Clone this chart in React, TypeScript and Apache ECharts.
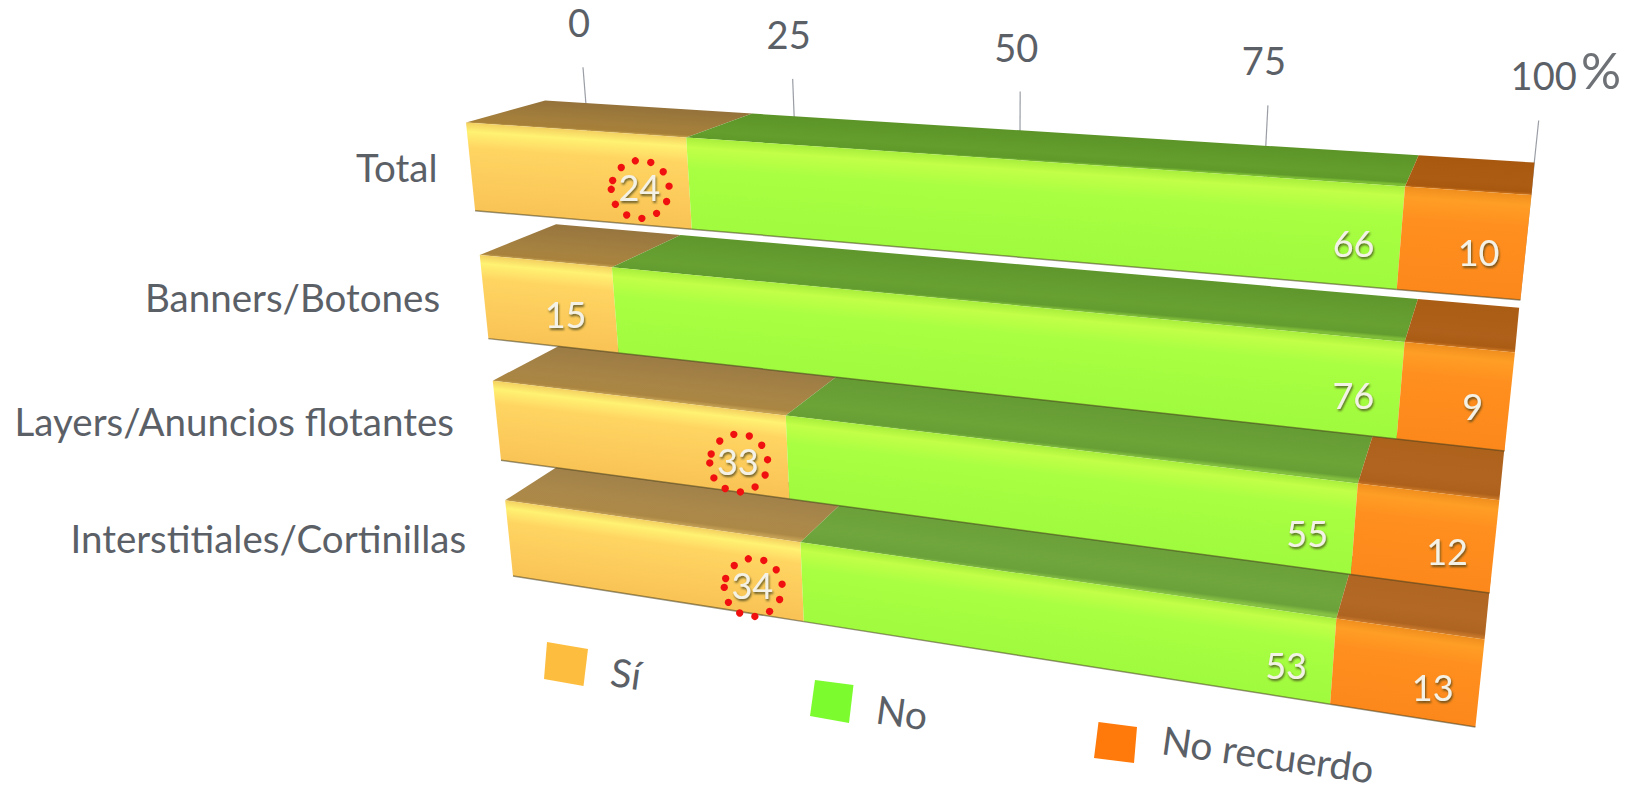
import React, { useEffect, useRef } from "react";
import * as echarts from "echarts";

// Survey answers per ad format, percent
const categories = ["Total", "Banners/Botones", "Layers/Anuncios flotantes", "Interstitiales/Cortinillas"];
const si = [24, 15, 33, 34];
const no = [66, 76, 55, 53];
const noRecuerdo = [10, 9, 12, 13];
const tickValues = [0, 25, 50, 75, 100];
const circledRows = [0, 2, 3];

// Perspective of the front plane: screen corners of the value/row rectangle
const CORNERS = [
  [466, 122.5],
  [1531.5, 195],
  [1475.4, 727],
  [513, 576],
];
const VANISH = [1566, -182];
const DEPTH = 0.0776;
const WALL_DEPTH = 1.56;
const BAR_BAND = 0.66;
const FONT = "Lato, Carlito, 'Open Sans', sans-serif";
const INK = "#5b6067";
const LABEL_GAPS = [33, 44, 43, 43];

const [[x0, y0], [x1, y1], [x2, y2], [x3, y3]] = CORNERS;
const dx1 = x1 - x2;
const dx2 = x3 - x2;
const sx = x0 - x1 + x2 - x3;
const dy1 = y1 - y2;
const dy2 = y3 - y2;
const sy = y0 - y1 + y2 - y3;
const det = dx1 * dy2 - dx2 * dy1;
const G = (sx * dy2 - dx2 * sy) / det;
const H = (dx1 * sy - sx * dy1) / det;
const A = x1 - x0 + G * x1;
const B = x3 - x0 + H * x3;
const D = y1 - y0 + G * y1;
const E = y3 - y0 + H * y3;

function toScreen(u: number, v: number, depth: number) {
  const d = depth * DEPTH;
  const w = G * u + H * v + 1 + d;
  return [(A * u + B * v + x0 + d * VANISH[0]) / w, (D * u + E * v + y0 + d * VANISH[1]) / w];
}

// Value and row, read through the chart's own axes, as plane coordinates
function planePoint(api: any, value: number, row: number, bandOffset: number, depth: number) {
  const band = api.size([0, 1])[1];
  const left = api.coord([0, 0])[0];
  const right = api.coord([100, 0])[0];
  const top = api.coord([0, 0])[1] - (band * BAR_BAND) / 2;
  const bottom = api.coord([0, categories.length - 1])[1] + (band * BAR_BAND) / 2;
  const p = api.coord([value, row]);
  const u = (p[0] - left) / (right - left);
  const v = (p[1] + bandOffset * band - top) / (bottom - top);
  return toScreen(u, v, depth);
}

function gradientAcross(a: number[], b: number[], c: number[], d: number[], stops: any[]) {
  const mx = (a[0] + b[0]) / 2;
  const my = (a[1] + b[1]) / 2;
  const nx = (d[0] + c[0]) / 2 - mx;
  const ny = (d[1] + c[1]) / 2 - my;
  const ex = b[0] - a[0];
  const ey = b[1] - a[1];
  const len = Math.hypot(ex, ey) || 1;
  const px = -ey / len;
  const py = ex / len;
  const s = nx * px + ny * py;
  return new echarts.graphic.LinearGradient(
    mx,
    my,
    mx + px * s,
    my + py * s,
    stops.map(([offset, color]: any[]) => ({ offset, color })),
    true
  );
}

const PALETTE = {
  si: {
    top: [[0, "#94723a"], [0.7, "#a47f3c"], [0.93, "#a67f38"], [1, "#c09a48"]],
    front: [[0, "#f4d060"], [0.1, "#fff272"], [0.28, "#ffd562"], [1, "#f9c355"]],
  },
  no: {
    top: [[0, "#5c9428"], [0.7, "#649f2d"], [0.93, "#5f9a2a"], [1, "#7cbc34"]],
    front: [[0, "#a8ee3c"], [0.1, "#c2ff48"], [0.32, "#a9ff42"], [1, "#a0fa3e"]],
  },
  noRecuerdo: {
    top: [[0, "#a8590f"], [0.7, "#ad5c14"], [0.93, "#a8580f"], [1, "#c8701a"]],
    front: [[0, "#f08e1e"], [0.1, "#ff9e25"], [0.32, "#ff8f1f"], [1, "#fc881b"]],
  },
};

const stackedRenderer = (palette: any, isFirst: boolean) => (params: any, api: any) => {
  const start = api.value(0);
  const end = api.value(1);
  const row = api.value(2);
  const value = api.value(3);
  const half = BAR_BAND / 2;
  const z = 100 - row * 10;
  const fTL = planePoint(api, start, row, -half, 0);
  const fTR = planePoint(api, end, row, -half, 0);
  const fBR = planePoint(api, end, row, half, 0);
  const fBL = planePoint(api, start, row, half, 0);
  const bL = planePoint(api, start, row, -half, 1);
  const bR = planePoint(api, end, row, -half, 1);
  const anchor = planePoint(api, end, row, 0.04 * BAR_BAND, 0);
  const rightEdge = anchor[0] - (isFirst ? 29 : 26);
  const ly = anchor[1];
  const children: any[] = [
    {
      type: "polygon",
      z2: z,
      shape: { points: [bL, bR, fTR, fTL] },
      style: { fill: gradientAcross(bL, bR, fTR, fTL, palette.top), stroke: null, opacity: 1 - 0.025 * row },
    },
    {
      type: "polygon",
      z2: z,
      shape: { points: [fTL, fTR, fBR, fBL] },
      style: { fill: gradientAcross(fTL, fTR, fBR, fBL, palette.front), stroke: null },
    },
    {
      type: "polyline",
      z2: z + 1,
      shape: { points: [fBL, fBR] },
      style: { fill: null, stroke: "rgba(70,62,30,0.55)", lineWidth: 1.5 },
    },
    {
      type: "text",
      z2: z + 3,
      style: {
        text: String(value),
        x: rightEdge,
        y: ly,
        align: "right",
        verticalAlign: "middle",
        font: `36px ${FONT}`,
        fill: "#f4f2e6",
        textShadowColor: "rgba(60,60,30,0.75)",
        textShadowBlur: 2,
        textShadowOffsetX: 1,
        textShadowOffsetY: 2,
      },
    },
  ];
  if (isFirst && circledRows.includes(row)) {
    const cx = rightEdge - 20;
    for (let i = 0; i < 12; i++) {
      const angle = ((198 + i * 31.1) * Math.PI) / 180;
      children.push({
        type: "circle",
        z2: z + 4,
        shape: { cx: cx + 29 * Math.cos(angle), cy: ly + 2 + 29 * Math.sin(angle), r: 3.7 },
        style: { fill: "#f01010", stroke: null },
      });
    }
  }
  return { type: "group", children };
};

function barData(values: number[], offsets: number[]) {
  return values.map((value, row) => [offsets[row], offsets[row] + value, row, value]);
}

const renderTick = (params: any, api: any) => {
  const value = api.value(0);
  const top = planePoint(api, value, 0, -BAR_BAND / 2 - 0.05 * 3.66, WALL_DEPTH);
  const foot = planePoint(api, value, 0, -BAR_BAND / 2 + 0.3 * 3.66, WALL_DEPTH);
  const shift = value === 100 ? 5 : -4;
  return {
    type: "group",
    children: [
      {
        type: "line",
        z2: 1,
        shape: { x1: top[0], y1: top[1], x2: foot[0], y2: foot[1] },
        style: { stroke: "#9a9ea4", lineWidth: 1.2 },
      },
      {
        type: "text",
        z2: 1,
        style: {
          text: String(value),
          x: top[0] + shift,
          y: top[1] - 45,
          align: "center",
          verticalAlign: "middle",
          font: `38px ${FONT}`,
          fill: INK,
        },
      },
    ],
  };
};

const renderCategory = (params: any, api: any) => {
  const row = api.value(0);
  const p = planePoint(api, 0, row, 0, 0);
  return {
    type: "text",
    z2: 1,
    style: {
      text: categories[row],
      x: p[0] - LABEL_GAPS[row],
      y: p[1],
      align: "right",
      verticalAlign: "middle",
      font: `38.5px ${FONT}`,
      fill: INK,
    },
  };
};

const tilt = (-8 * Math.PI) / 180;
const legendText = (text: string, x: number, y: number) => ({
  type: "text",
  x,
  y,
  rotation: tilt,
  style: { text, align: "center", verticalAlign: "middle", font: `39px ${FONT}`, fill: INK },
});
const legendSwatch = (points: number[][], fill: string) => ({
  type: "polygon",
  shape: { points },
  style: { fill },
});

export default function App() {
  const ref = useRef<HTMLDivElement>(null);
  useEffect(() => {
    const chart = echarts.init(ref.current!, null, { renderer: "svg" });
    const noStart = si;
    const recuerdoStart = si.map((v, i) => v + no[i]);
    chart.setOption({
      animation: false,
      backgroundColor: "#ffffff",
      grid: { left: 466, top: 122, width: 1065, height: 605 },
      xAxis: { type: "value", min: 0, max: 100, show: false },
      yAxis: { type: "category", data: categories, inverse: true, show: false },
      series: [
        {
          name: "Eje",
          type: "custom",
          silent: true,
          renderItem: renderTick,
          data: tickValues.map((v) => [v]),
          encode: { x: 0 },
        },
        {
          name: "Formatos",
          type: "custom",
          silent: true,
          renderItem: renderCategory,
          data: categories.map((_, i) => [i]),
          encode: { y: 0 },
        },
        {
          name: "Sí",
          type: "custom",
          silent: true,
          renderItem: stackedRenderer(PALETTE.si, true),
          data: barData(si, si.map(() => 0)),
          encode: { x: [0, 1], y: 2 },
        },
        {
          name: "No",
          type: "custom",
          silent: true,
          renderItem: stackedRenderer(PALETTE.no, false),
          data: barData(no, noStart),
          encode: { x: [0, 1], y: 2 },
        },
        {
          name: "No recuerdo",
          type: "custom",
          silent: true,
          renderItem: stackedRenderer(PALETTE.noRecuerdo, false),
          data: barData(noRecuerdo, recuerdoStart),
          encode: { x: [0, 1], y: 2 },
        },
      ],
      graphic: [
        {
          type: "text",
          x: 1601,
          y: 70,
          style: { text: "%", align: "center", verticalAlign: "middle", font: `50px ${FONT}`, fill: "#6e7176" },
        },
        legendSwatch([[547, 642], [588, 649], [583.5, 686], [544, 679]], "#fdbe40"),
        legendSwatch([[815, 680], [853.5, 685], [849, 723], [810, 716]], "#7cfc2e"),
        legendSwatch([[1098.5, 722], [1137, 727], [1134, 763], [1094, 758]], "#ff7a0a"),
        legendText("Sí", 626, 673),
        legendText("No", 902, 712),
        legendText("No recuerdo", 1268, 754),
      ],
    });
    return () => chart.dispose();
  }, []);
  return <div ref={ref} style={{ position: "fixed", left: 0, top: 0, width: 1628, height: 792 }} />;
}
